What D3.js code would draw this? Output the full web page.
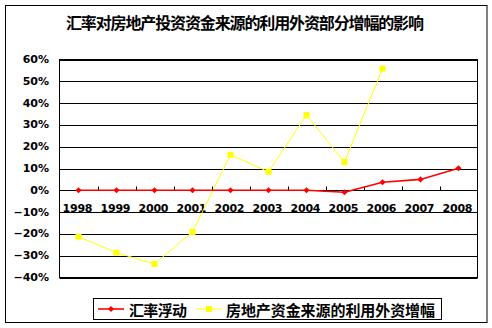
<!DOCTYPE html>
<html>
<head>
<meta charset="utf-8">
<script src="https://cdn.jsdelivr.net/npm/d3@7"></script>
<style>
    body { margin: 0; background: #fff; }
    svg { display: block; }
    .num { font-family: "DejaVu Sans", sans-serif; font-weight: bold; font-size: 11px; }
    .cjk { font-family: "Noto Sans CJK SC", sans-serif; font-weight: bold; }
</style>
</head>
<body>
<svg id="chart" width="492" height="328"></svg>
<script>
(function() {
'use strict';

    var years = ['1998', '1999', '2000', '2001', '2002', '2003', '2004', '2005', '2006', '2007', '2008'];
    var rateFloat = [0, 0, 0, 0, 0, 0, 0, -0.009, 0.037, 0.050, 0.101];
    var foreignCapital = [-0.213, -0.286, -0.338, -0.191, 0.163, 0.085, 0.345, 0.130, 0.558];
    var yTicks = [-0.4, -0.3, -0.2, -0.1, 0, 0.1, 0.2, 0.3, 0.4, 0.5, 0.6];
    var seriesNames = ['汇率浮动', '房地产资金来源的利用外资增幅'];
    var title = '汇率对房地产投资资金来源的利用外资部分增幅的影响';

    var svg = d3.select('#chart');
    var plot = {left: 59.5, right: 477.5, top: 59.5, bottom: 277.5};

    var x = d3.scaleBand().domain(years).range([plot.left, plot.right]).padding(0),
        y = d3.scaleLinear().domain([-0.4, 0.6]).range([plot.bottom, plot.top]),
        cx = function(d, i) { return x(years[i]) + x.bandwidth() / 2; };

    // outer frame
    svg.append('rect')
        .attr('x', 5.5).attr('y', 5.5).attr('width', 481.5).attr('height', 317)
        .attr('fill', '#fff').attr('stroke', '#000').attr('stroke-width', 1);

    svg.append('text')
        .attr('class', 'cjk')
        .attr('x', 66).attr('y', 22)
        .attr('dominant-baseline', 'central')
        .attr('font-size', 16)
        .attr('textLength', 358).attr('lengthAdjust', 'spacing')
        .text(title);

    // gridlines + frame of plot
    svg.append('g').selectAll('line').data(yTicks).enter().append('line')
        .attr('x1', plot.left).attr('x2', plot.right)
        .attr('y1', function(d) { return Math.round(y(d)) + 0.5; })
        .attr('y2', function(d) { return Math.round(y(d)) + 0.5; })
        .attr('stroke', '#000');
    svg.append('rect')
        .attr('x', plot.left).attr('y', plot.top)
        .attr('width', plot.right - plot.left).attr('height', plot.bottom - plot.top)
        .attr('fill', 'none').attr('stroke', '#000');

    // y labels
    svg.append('g').selectAll('text').data(yTicks).enter().append('text')
        .attr('class', 'num')
        .attr('x', 49).attr('y', function(d) { return y(d); })
        .attr('text-anchor', 'end').attr('dominant-baseline', 'central')
        .text(d3.format('.0%'));

    // x axis at zero, small ticks between categories
    var y0 = Math.round(y(0)) + 0.5;
    var xAxis = svg.append('g');
    xAxis.selectAll('line').data(years.slice(1)).enter().append('line')
        .attr('x1', function(d) { return Math.round(x(d)) + 0.5; })
        .attr('x2', function(d) { return Math.round(x(d)) + 0.5; })
        .attr('y1', y0 - 4).attr('y2', y0)
        .attr('stroke', '#000');
    xAxis.selectAll('text').data(years).enter().append('text')
        .attr('class', 'num')
        .attr('x', function(d) { return x(d) + x.bandwidth() / 2 - 16; })
        .attr('y', y0 + 18)
        .attr('dominant-baseline', 'central')
        .attr('textLength', 30).attr('lengthAdjust', 'spacing')
        .text(function(d) { return d; });

    var line = d3.line().x(cx).y(function(d) { return y(d); });

    // yellow series
    svg.append('path').datum(foreignCapital)
        .attr('d', line).attr('fill', 'none')
        .attr('stroke', '#ffff00').attr('stroke-width', 1);
    svg.append('g').selectAll('rect').data(foreignCapital).enter().append('rect')
        .attr('x', function(d, i) { return cx(d, i) - 3; })
        .attr('y', function(d) { return y(d) - 3; })
        .attr('width', 6).attr('height', 6)
        .attr('fill', '#ffff00');

    // red series
    var diamond = d3.symbol().type(d3.symbolDiamond2).size(24);
    svg.append('path').datum(rateFloat)
        .attr('d', line).attr('fill', 'none')
        .attr('stroke', '#ff0000').attr('stroke-width', 1.6);
    svg.append('g').selectAll('path').data(rateFloat).enter().append('path')
        .attr('d', diamond)
        .attr('transform', function(d, i) { return 'translate(' + cx(d, i) + ',' + y(d) + ')'; })
        .attr('fill', '#ff0000');

    // legend
    var legend = svg.append('g');
    legend.append('rect')
        .attr('x', 93.5).attr('y', 298.5).attr('width', 348).attr('height', 21)
        .attr('fill', '#fff').attr('stroke', '#000');
    var ly = 309;
    legend.append('line').attr('x1', 98).attr('x2', 124).attr('y1', ly).attr('y2', ly)
        .attr('stroke', '#ff0000').attr('stroke-width', 1.6);
    legend.append('path').attr('d', diamond)
        .attr('transform', 'translate(111,' + ly + ')').attr('fill', '#ff0000');
    legend.append('line').attr('x1', 196).attr('x2', 222).attr('y1', ly).attr('y2', ly)
        .attr('stroke', '#ffff00');
    legend.append('rect').attr('x', 206).attr('y', ly - 3).attr('width', 6).attr('height', 6)
        .attr('fill', '#ffff00');
    legend.selectAll('text').data(seriesNames).enter().append('text')
        .attr('class', 'cjk')
        .attr('x', function(d, i) { return i === 0 ? 129 : 226; })
        .attr('y', ly)
        .attr('dominant-baseline', 'central')
        .attr('font-size', 15)
        .attr('textLength', function(d, i) { return i === 0 ? 58 : 209; })
        .attr('lengthAdjust', 'spacing')
        .text(function(d) { return d; });

})();
</script>
</body>
</html>
